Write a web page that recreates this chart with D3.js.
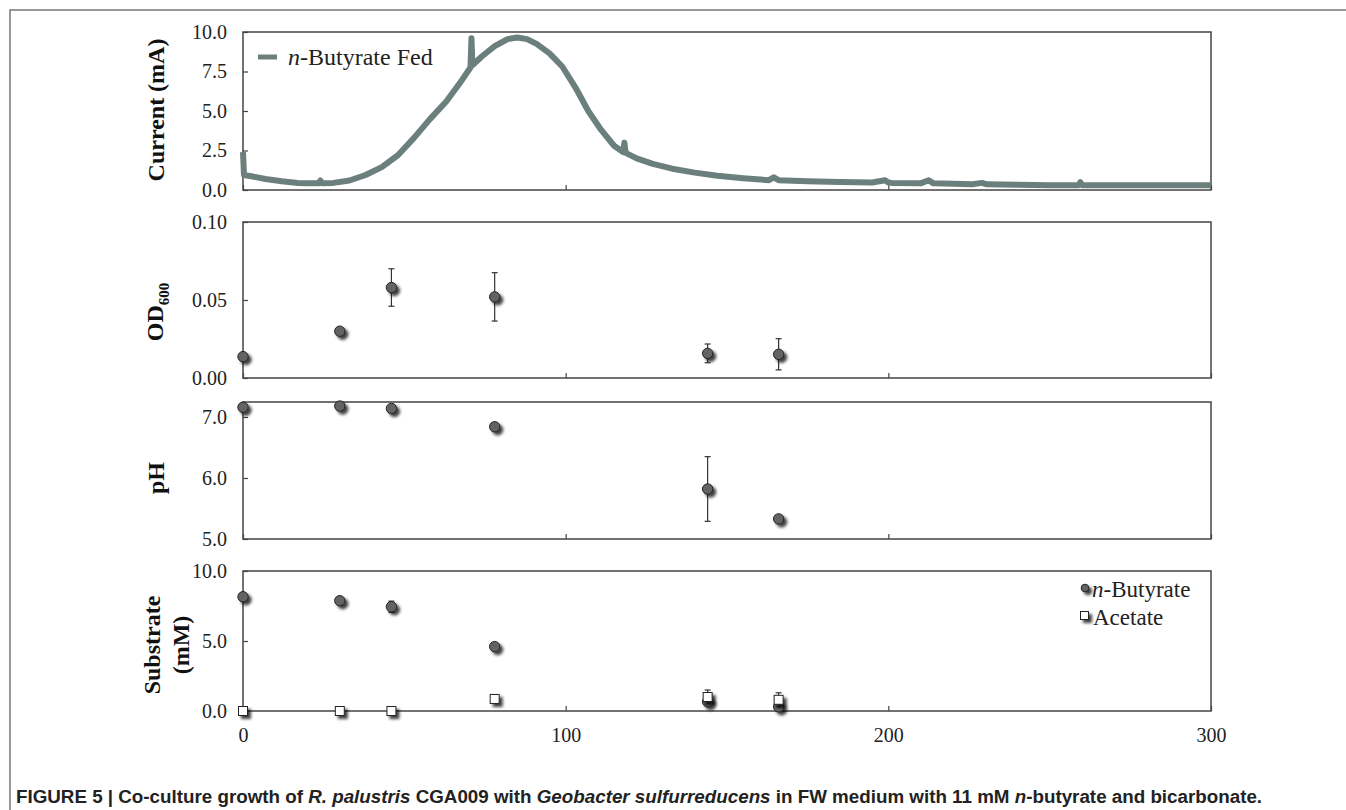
<!DOCTYPE html>
<html>
<head>
<meta charset="utf-8">
<script src="https://cdn.jsdelivr.net/npm/d3@7"></script>
<style>
  body { margin: 0; background: #fff; }
  svg { display: block; }
</style>
</head>
<body>
<svg width="1346" height="810"></svg>
<script>
// time axis (h)
const xTicks = [0, 100, 200, 300];

// current trace
const currentTime = [0, 0.3, 3, 7, 12, 17, 20, 23.5, 24, 24.5, 28, 33, 38, 43, 48, 53, 58, 63, 68,
  70.5, 70.8, 71.1, 74, 78, 82, 85, 88, 91, 95, 99, 103, 107, 111, 115, 117.8, 118.2, 118.6,
  122, 127, 133, 140, 147, 155, 163, 164.5, 166, 175, 185, 195, 199, 200, 201, 210, 212.5, 214,
  220, 226, 229, 230.5, 240, 250, 259, 259.5, 260, 270, 285, 300];
const currentMA = [2.4, 0.95, 0.85, 0.7, 0.55, 0.45, 0.42, 0.42, 0.6, 0.42, 0.45, 0.6, 0.95, 1.45,
  2.2, 3.3, 4.5, 5.6, 7.0, 7.75, 9.6, 7.9, 8.45, 9.1, 9.55, 9.65, 9.55, 9.25, 8.65, 7.8, 6.5, 5.0,
  3.8, 2.8, 2.4, 3.0, 2.35, 2.0, 1.65, 1.35, 1.1, 0.9, 0.75, 0.62, 0.8, 0.62, 0.55, 0.5, 0.47,
  0.62, 0.48, 0.45, 0.42, 0.62, 0.42, 0.4, 0.37, 0.45, 0.36, 0.33, 0.3, 0.3, 0.5, 0.3, 0.3, 0.3, 0.3];

// sampling times
const sampleTime = [0, 30, 46, 78, 144, 166];

const od600    = [0.0137, 0.030, 0.058, 0.052, 0.0158, 0.0152];
const od600Err = [0, 0, 0.012, 0.0155, 0.006, 0.010];

const pH    = [7.16, 7.18, 7.14, 6.84, 5.82, 5.33];
const pHErr = [0, 0, 0, 0, 0.53, 0];

const butyrate    = [8.16, 7.88, 7.45, 4.6, 0.66, 0.3];
const butyrateErr = [0, 0, 0.4, 0.2, 0, 0];
const acetate     = [0, 0, 0, 0.86, 1.0, 0.8];
const acetateErr  = [0, 0, 0, 0, 0.5, 0.5];

const currentTicks   = [0, 2.5, 5, 7.5, 10];
const odTicks        = [0, 0.05, 0.1];
const pHTicks        = [5, 6, 7];
const substrateTicks = [0, 5, 10];

var svg = d3.select("svg");

const serif = "'Liberation Serif', 'Times New Roman', serif";
const axisColor = "#444";
const traceColor = "#6b7f7c";

svg.append("rect").attr("width", 1346).attr("height", 810).attr("fill", "#fff");

// figure frame
svg.append("path")
    .attr("d", "M10,830 L10,10 L1360,10")
    .attr("fill", "none")
    .attr("stroke", "#777")
    .attr("stroke-width", 1.5);

// drop shadow for markers
var defs = svg.append("defs");
var filt = defs.append("filter").attr("id", "shadow")
    .attr("x", "-50%").attr("y", "-50%").attr("width", "250%").attr("height", "250%");
filt.append("feGaussianBlur").attr("in", "SourceAlpha").attr("stdDeviation", 1.8).attr("result", "b");
filt.append("feOffset").attr("in", "b").attr("dx", 3).attr("dy", 3).attr("result", "o");
filt.append("feComponentTransfer").attr("in", "o").attr("result", "s")
    .append("feFuncA").attr("type", "linear").attr("slope", 0.75);
var merge = filt.append("feMerge");
merge.append("feMergeNode").attr("in", "s");
merge.append("feMergeNode").attr("in", "SourceGraphic");

const x = d3.scaleLinear().domain([0, 300]).range([243, 1211]);

const panels = [
  { top: 32,  bottom: 190, domain: [0, 10],    ticks: currentTicks,   fmt: d3.format(".1f") },
  { top: 222, bottom: 378, domain: [0, 0.1],   ticks: odTicks,        fmt: d3.format(".2f") },
  { top: 402, bottom: 539, domain: [5, 7.246], ticks: pHTicks,        fmt: d3.format(".1f") },
  { top: 571, bottom: 711, domain: [0, 10],    ticks: substrateTicks, fmt: d3.format(".1f") }
];

panels.forEach(function (p, i) {
  p.y = d3.scaleLinear().domain(p.domain).range([p.bottom, p.top]);
  var g = svg.append("g");

  var ya = g.append("g")
      .attr("transform", "translate(" + x(0) + ",0)")
      .call(d3.axisLeft(p.y).tickValues(p.ticks).tickFormat(p.fmt)
            .tickSizeInner(-5).tickSizeOuter(0).tickPadding(16));
  ya.select(".domain").remove();
  ya.selectAll("line").attr("stroke", axisColor).attr("stroke-width", 1.2);
  ya.selectAll("text").attr("font-family", serif).attr("font-size", 20).attr("fill", "#222");

  var xa = g.append("g")
      .attr("transform", "translate(0," + p.bottom + ")")
      .call(d3.axisBottom(x).tickValues(xTicks)
            .tickFormat(i === 3 ? d3.format("d") : "")
            .tickSizeInner(-5).tickSizeOuter(0).tickPadding(17));
  xa.select(".domain").remove();
  xa.selectAll("line").attr("stroke", axisColor).attr("stroke-width", 1.2);
  xa.selectAll("text").attr("font-family", serif).attr("font-size", 20).attr("fill", "#222");

  g.append("rect")
      .attr("x", x(0)).attr("y", p.top)
      .attr("width", x(300) - x(0)).attr("height", p.bottom - p.top)
      .attr("fill", "none").attr("stroke", axisColor).attr("stroke-width", 1.5);
});

// y-axis titles
function yTitle(tx, ty) {
  return svg.append("text")
      .attr("transform", "translate(" + tx + "," + ty + ") rotate(-90)")
      .attr("text-anchor", "middle")
      .attr("font-family", serif).attr("font-size", 24).attr("font-weight", "bold")
      .attr("fill", "#111");
}
yTitle(164, 110).text("Current (mA)");
var od = yTitle(163, 312);
od.append("tspan").text("OD");
od.append("tspan").attr("font-size", 15).attr("dy", 6).text("600");
yTitle(164, 478).text("pH");
yTitle(160, 645).text("Substrate");
yTitle(189, 645).text("(mM)");

// current trace
var cy = panels[0].y;
var trace = currentTime.map(function (t, i) { return [t, currentMA[i]]; });
svg.append("path")
    .datum(trace)
    .attr("d", d3.line().x(d => x(d[0])).y(d => cy(d[1])))
    .attr("fill", "none")
    .attr("stroke", traceColor)
    .attr("stroke-width", 6)
    .attr("stroke-linejoin", "round");

// top legend
svg.append("line")
    .attr("x1", 258).attr("x2", 277).attr("y1", 57).attr("y2", 57)
    .attr("stroke", traceColor).attr("stroke-width", 5);
var lt = svg.append("text").attr("x", 288).attr("y", 65)
    .attr("font-family", serif).attr("font-size", 24).attr("fill", "#222");
lt.append("tspan").attr("font-style", "italic").text("n");
lt.append("tspan").text("-Butyrate Fed");

// scatter helpers
function errorBars(vals, errs, yScale) {
  var g = svg.append("g").attr("stroke", "#333").attr("stroke-width", 1.2);
  sampleTime.forEach(function (t, i) {
    if (!errs[i]) return;
    var cx = x(t), y1 = yScale(vals[i] + errs[i]), y2 = yScale(vals[i] - errs[i]);
    g.append("line").attr("x1", cx).attr("x2", cx).attr("y1", y1).attr("y2", y2);
    g.append("line").attr("x1", cx - 3).attr("x2", cx + 3).attr("y1", y1).attr("y2", y1);
    g.append("line").attr("x1", cx - 3).attr("x2", cx + 3).attr("y1", y2).attr("y2", y2);
  });
}
function circles(vals, yScale) {
  svg.append("g").selectAll("circle")
      .data(sampleTime)
      .join("circle")
      .attr("cx", d => x(d))
      .attr("cy", (d, i) => yScale(vals[i]))
      .attr("r", 5.2)
      .attr("fill", "#636363")
      .attr("stroke", "#222")
      .attr("stroke-width", 1)
      .attr("filter", "url(#shadow)");
}
function squares(vals, yScale) {
  svg.append("g").selectAll("rect")
      .data(sampleTime)
      .join("rect")
      .attr("x", d => x(d) - 4.5)
      .attr("y", (d, i) => yScale(vals[i]) - 4.5)
      .attr("width", 9).attr("height", 9)
      .attr("fill", "#fff")
      .attr("stroke", "#222")
      .attr("stroke-width", 1)
      .attr("filter", "url(#shadow)");
}

errorBars(od600, od600Err, panels[1].y);
circles(od600, panels[1].y);

errorBars(pH, pHErr, panels[2].y);
circles(pH, panels[2].y);

errorBars(butyrate, butyrateErr, panels[3].y);
circles(butyrate, panels[3].y);
errorBars(acetate, acetateErr, panels[3].y);
squares(acetate, panels[3].y);

// substrate legend
svg.append("circle").attr("cx", 1085).attr("cy", 588).attr("r", 3.8)
    .attr("fill", "#636363").attr("stroke", "#222").attr("filter", "url(#shadow)");
svg.append("rect").attr("x", 1080.5).attr("y", 611.5).attr("width", 8).attr("height", 8)
    .attr("fill", "#fff").attr("stroke", "#222").attr("filter", "url(#shadow)");
var l1 = svg.append("text").attr("x", 1092).attr("y", 597)
    .attr("font-family", serif).attr("font-size", 23).attr("fill", "#222");
l1.append("tspan").attr("font-style", "italic").text("n");
l1.append("tspan").text("-Butyrate");
svg.append("text").attr("x", 1093).attr("y", 625)
    .attr("font-family", serif).attr("font-size", 23).attr("fill", "#222")
    .text("Acetate");

// caption
var cap = svg.append("text").attr("x", 16).attr("y", 803)
    .attr("font-family", "'Liberation Sans', Arial, sans-serif")
    .attr("font-size", 18.8).attr("font-weight", "bold").attr("fill", "#222");
cap.append("tspan").text("FIGURE 5 | Co-culture growth of ");
cap.append("tspan").attr("font-style", "italic").text("R. palustris");
cap.append("tspan").text(" CGA009 with ");
cap.append("tspan").attr("font-style", "italic").text("Geobacter sulfurreducens");
cap.append("tspan").text(" in FW medium with 11 mM ");
cap.append("tspan").attr("font-style", "italic").text("n");
cap.append("tspan").text("-butyrate and bicarbonate.");
</script>
</body>
</html>
